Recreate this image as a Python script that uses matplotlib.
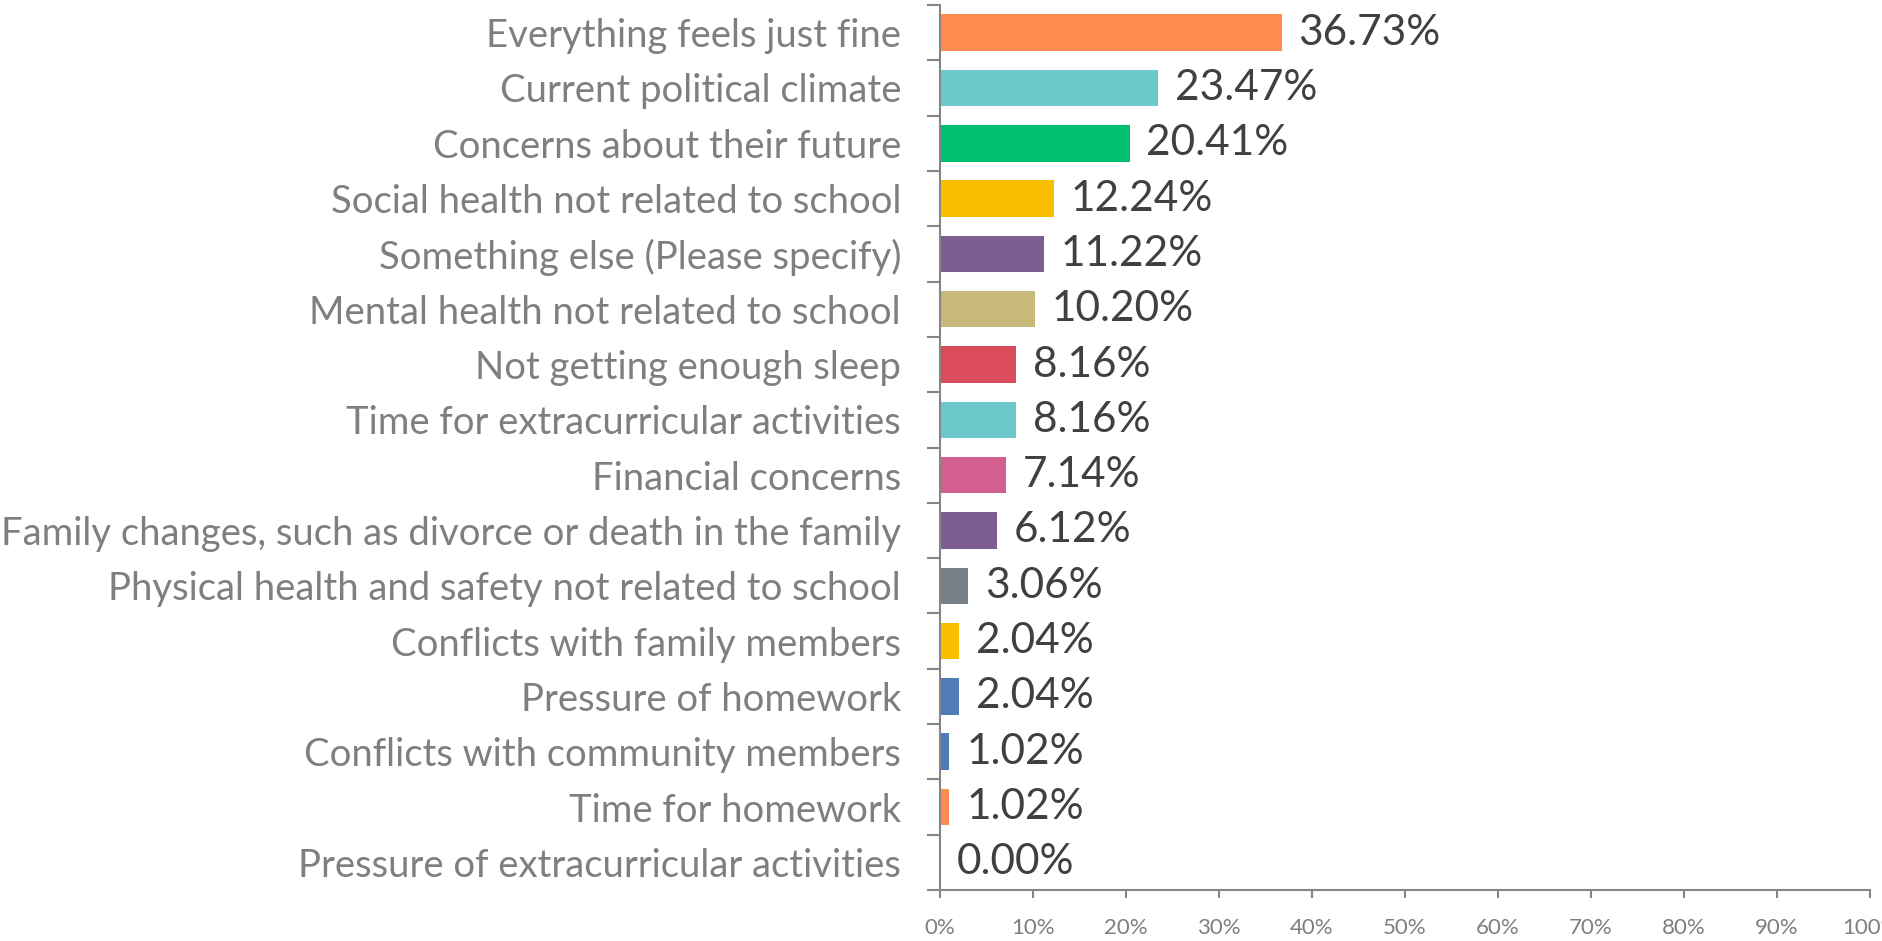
import matplotlib
matplotlib.use('Agg')
import matplotlib.pyplot as plt
from matplotlib.ticker import FixedLocator

categories = [
    'Everything feels just fine',
    'Current political climate',
    'Concerns about their future',
    'Social health not related to school',
    'Something else (Please specify)',
    'Mental health not related to school',
    'Not getting enough sleep',
    'Time for extracurricular activities',
    'Financial concerns',
    'Family changes, such as divorce or death in the family',
    'Physical health and safety not related to school',
    'Conflicts with family members',
    'Pressure of homework',
    'Conflicts with community members',
    'Time for homework',
    'Pressure of extracurricular activities',
]
values = [36.73, 23.47, 20.41, 12.24, 11.22, 10.20, 8.16, 8.16, 7.14, 6.12,
          3.06, 2.04, 2.04, 1.02, 1.02, 0.00]
colors = ['#FF8B4F', '#6CC8CB', '#00BF6F', '#F9BE00', '#7D5E90', '#C8B879',
          '#DA4C5B', '#6CC8CB', '#D25F90', '#7D5E90', '#758089', '#F9BE00',
          '#507CB6', '#507CB6', '#FF8B4F', '#758089']
xticks = [0, 10, 20, 30, 40, 50, 60, 70, 80, 90, 100]

plt.rcParams['font.family'] = ['Lato', 'DejaVu Sans']

fig = plt.figure(figsize=(18.83, 9.41), dpi=100)
ax = fig.add_axes([940 / 1883, 51 / 941, 930 / 1883, 885 / 941])

n = len(categories)
ypos = list(range(n))
ax.barh(ypos, values, height=0.66, color=colors)
for y, v in zip(ypos, values):
    ax.annotate('%.2f%%' % v, (v, y), xytext=(12, 0), textcoords='offset points',
                va='center', ha='left', fontsize=30.5, color='#404040')

ax.set_ylim(n - 0.5, -0.5)
ax.set_xlim(0, 100)
ax.set_yticks(ypos)
ax.set_yticklabels(categories, fontsize=27.5, color='#7F7F7F')
ax.yaxis.set_minor_locator(FixedLocator([i - 0.5 for i in range(n + 1)]))
ax.tick_params(axis='y', which='major', length=0, pad=28)
ax.tick_params(axis='y', which='minor', length=9.5, width=1.5, color='#868686')

ax.set_xticks(xticks)
ax.set_xticklabels(['%d%%' % t for t in xticks], fontsize=16, color='#7F7F7F')
ax.tick_params(axis='x', length=6, width=1.5, color='#868686', pad=14)

for side in ['top', 'right']:
    ax.spines[side].set_visible(False)
for side in ['left', 'bottom']:
    ax.spines[side].set_color('#868686')
    ax.spines[side].set_linewidth(1.5)

fig.savefig('out.png', dpi=100)
